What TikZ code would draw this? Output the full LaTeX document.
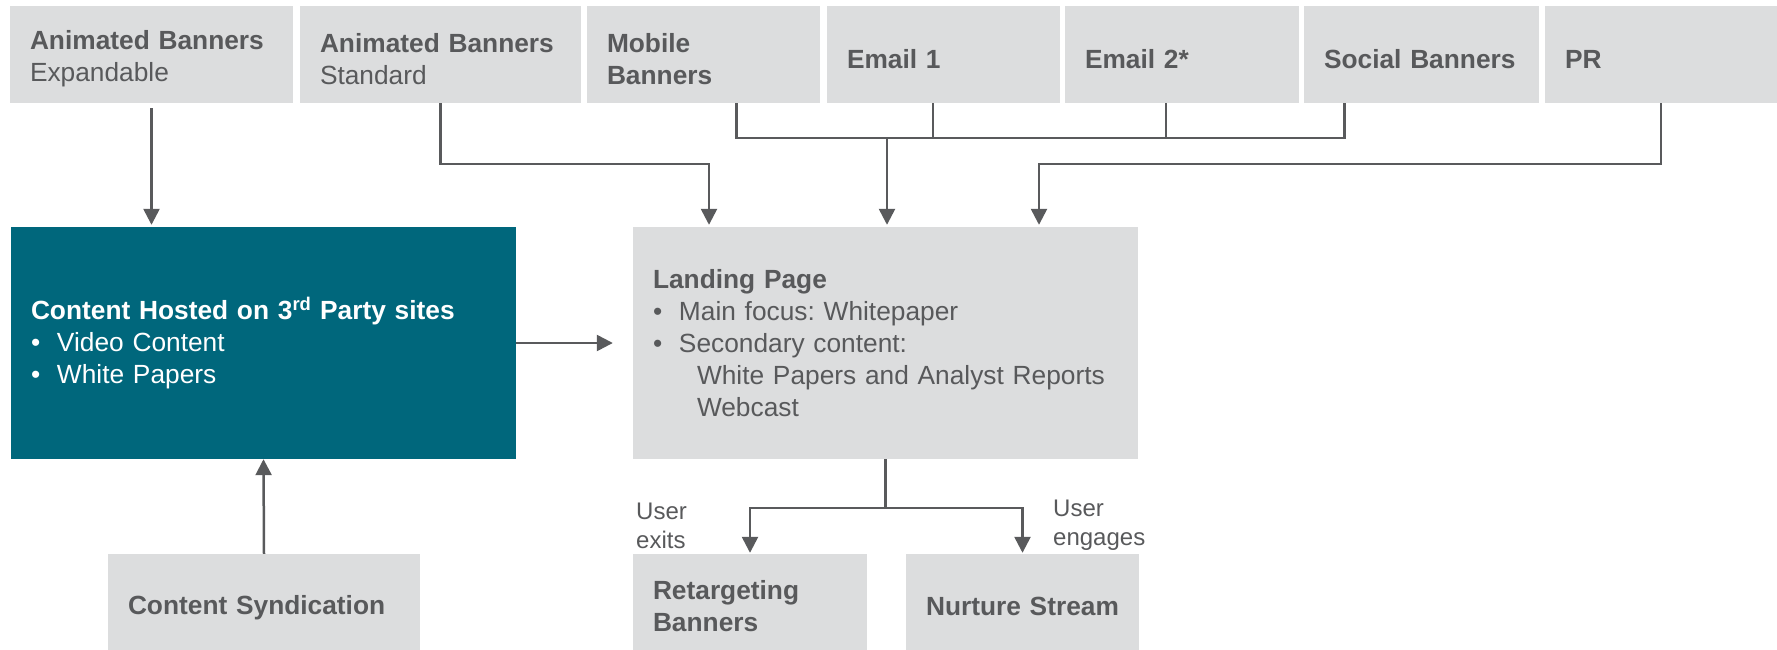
\documentclass[tikz,border=0pt]{standalone}
\usepackage{fontspec}
\setmainfont{Liberation Sans}
\usetikzlibrary{arrows.meta}
\definecolor{boxgray}{RGB}{220,221,222}
\definecolor{txtgray}{RGB}{88,89,91}
\definecolor{teal}{RGB}{0,103,124}
\definecolor{linegray}{RGB}{89,90,92}
\newcommand{\bul}{\makebox[26pt][l]{•}}
\newcommand{\tstrut}{\rule{0pt}{28pt}}
\frenchspacing
\begin{document}
\begin{tikzpicture}[x=1pt,y=-1pt,
  gbox/.style={fill=boxgray, text=txtgray, inner xsep=20pt, inner ysep=0pt, align=left,
    font=\fontsize{26.3}{32}\selectfont},
  tbox/.style={gbox, fill=teal, text=white},
  lbl/.style={text=txtgray, inner sep=0pt, anchor=west, align=left, font=\fontsize{24}{29}\selectfont},
  conn/.style={draw=linegray, line width=2.5pt},
  arr/.style={conn, -{Triangle[length=16pt,width=16pt]}}]
\useasboundingbox (0,0) rectangle (1777,650);

% top row
\node[gbox, text width=243pt, minimum height=97pt] (b1) at (151.5,54.5) {\tstrut\textbf{Animated Banners}\\Expandable};
\node[gbox, text width=241pt, minimum height=97pt] (b2) at (440.5,54.5) {\tstrut\textbf{Animated Banners}\\Standard};
\node[gbox, text width=193pt, minimum height=97pt] (b3) at (703.5,54.5) {\tstrut\textbf{Mobile}\\\textbf{Banners}};
\node[gbox, text width=193pt, minimum height=97pt] (b4) at (943.5,54.5) {\tstrut\textbf{Email 1}};
\node[gbox, text width=194pt, minimum height=97pt] (b5) at (1182,54.5) {\tstrut\textbf{Email 2*}};
\node[gbox, text width=195pt, minimum height=97pt] (b6) at (1421.5,54.5) {\tstrut\textbf{Social Banners}};
\node[gbox, text width=192pt, minimum height=97pt] (b7) at (1661,54.5) {\tstrut\textbf{PR}};

% middle row
\node[tbox, text width=465pt, minimum height=232pt] (teal) at (263.5,343)
  {\textbf{Content Hosted on 3\textsuperscript{rd} Party sites}\\\bul Video Content\\\bul White Papers};
\node[gbox, text width=465pt, minimum height=232pt] (land) at (885.5,343)
  {\textbf{Landing Page}\\\bul Main focus: Whitepaper\\\bul Secondary content:\\\hspace*{44pt}White Papers and Analyst Reports\\\hspace*{44pt}Webcast};

% bottom row
\node[gbox, text width=272pt, minimum height=96pt] (synd) at (264,602) {\rule{0pt}{30pt}\textbf{Content Syndication}};
\node[gbox, text width=194pt, minimum height=96pt] (ret) at (750,602) {\tstrut\textbf{Retargeting}\\\textbf{Banners}};
\node[gbox, text width=193pt, minimum height=96pt] (nur) at (1022.5,602) {\tstrut\textbf{Nurture Stream}};

% labels
\node[lbl] (lexit) at (636,526) {User\\exits};
\node[lbl] (leng) at (1053,525.5) {User\\engages};

% coordinates
\coordinate (k2) at (440.5,164);
\coordinate (e2) at (709,164);
\coordinate (bx3) at (736.5,138);
\coordinate (bx4) at (933,138);
\coordinate (bx5) at (1166,138);
\coordinate (bx6) at (1344.5,138);
\coordinate (bus) at (887,138);
\coordinate (k7) at (1661,164);
\coordinate (e7) at (1039,164);
\coordinate (split) at (885.5,508);

% connectors
\draw[arr, shorten <=5pt, shorten >=2pt] (b1.south) -- (b1.south |- teal.north);
\draw[arr, shorten >=2pt] (b2.south) -- (k2) -- (e2) -- (e2 |- land.north);
\draw[conn] (b3.south -| bx3) -- (bx3) -- (bx6) -- (b6.south -| bx6);
\draw[conn] (b4.south -| bx4) -- (bx4);
\draw[conn] (b5.south -| bx5) -- (bx5);
\draw[arr, shorten >=2pt] (bus) -- (bus |- land.north);
\draw[arr, shorten >=2pt] (b7.south) -- (k7) -- (e7) -- (e7 |- land.north);
\draw[arr, shorten >=20pt] (teal.east) -- (land.west);
\draw[arr] (synd.north) -- (teal.south);
\draw[conn] (land.south) -- (split);
\draw[arr, shorten >=1pt] (split) -| (ret.north);
\draw[arr, shorten >=1pt] (split) -| (nur.north);
\end{tikzpicture}
\end{document}
